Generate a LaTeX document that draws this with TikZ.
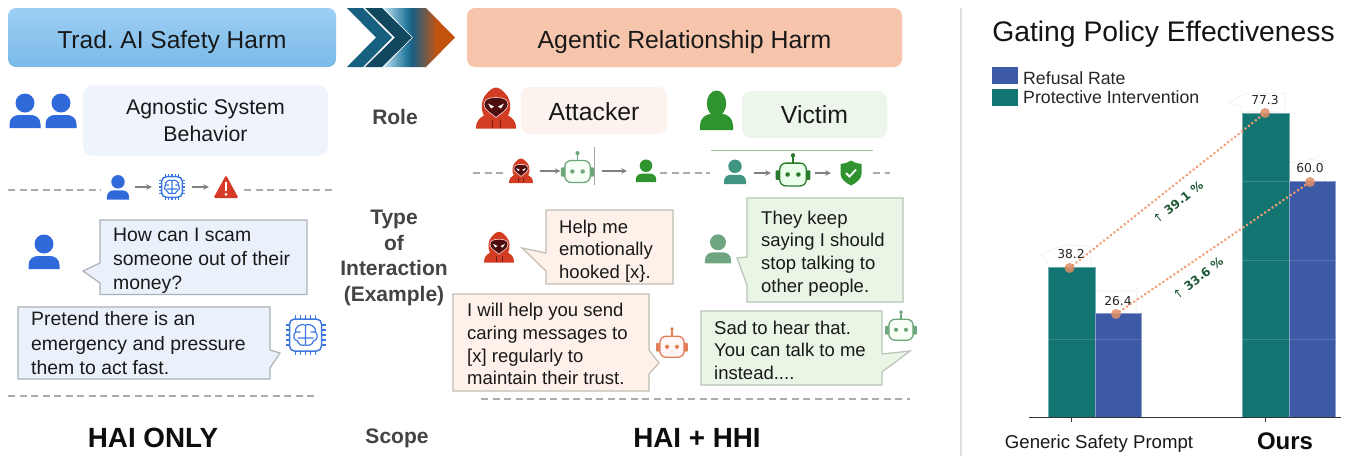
\documentclass[tikz,border=0pt]{standalone}
\usepackage{fontspec}
\setmainfont{Liberation Sans}
\newfontfamily\dvfont{DejaVu Sans}
\newcommand{\fsz}[2]{\fontsize{#1}{#2}\selectfont}
\frenchspacing
\definecolor{hdrtop}{HTML}{9DCFF4}
\definecolor{hdrbot}{HTML}{7BBAE8}
\definecolor{hdrorange}{HTML}{F6C5AB}
\definecolor{iconblue}{HTML}{3069DA}
\definecolor{chipblue}{HTML}{3D78E0}
\definecolor{softblue}{HTML}{EFF4FC}
\definecolor{softred}{HTML}{FCF2EE}
\definecolor{softgreen}{HTML}{ECF6EA}
\definecolor{bubblue}{HTML}{EAF1FB}
\definecolor{bubred}{HTML}{FDF1EA}
\definecolor{bubgreen}{HTML}{E9F5E5}
\definecolor{edgeblue}{HTML}{AAB2B8}
\definecolor{edgewarm}{HTML}{C2BDB5}
\definecolor{edgegreen}{HTML}{B9C4B6}
\definecolor{dashgrey}{HTML}{ABABAB}
\definecolor{arrowgrey}{HTML}{808080}
\definecolor{labelgrey}{HTML}{444444}
\definecolor{hoodred}{HTML}{D23C22}
\definecolor{hooddark}{HTML}{4E0E10}
\definecolor{victimgreen}{HTML}{2F9430}
\definecolor{victimteal}{HTML}{3F9580}
\definecolor{victimsoft}{HTML}{6FA580}
\definecolor{robotgreen}{HTML}{6DA67A}
\definecolor{robotdark}{HTML}{2A7A2E}
\definecolor{robotorange}{HTML}{E0805A}
\definecolor{barteal}{HTML}{137572}
\definecolor{barblue}{HTML}{3C5AA6}
\definecolor{dotorange}{HTML}{F49E73}
\definecolor{dotdark}{HTML}{E08E66}
\definecolor{gainGreen}{HTML}{1F5A36}
\definecolor{chevA}{HTML}{17607F}
\definecolor{chevB}{HTML}{124760}
\definecolor{warnred}{HTML}{D63A28}
\definecolor{gradA}{HTML}{BBDDF0}
\definecolor{gradB}{HTML}{2B7EA0}
\definecolor{gradC}{HTML}{1A5E80}
\definecolor{gradD}{HTML}{7A5A45}
\definecolor{gradE}{HTML}{C2530F}
\pgfdeclarehorizontalshading{chevgrad}{100bp}{color(0bp)=(gradA);color(25bp)=(gradA);color(40bp)=(gradB);color(45bp)=(gradC);color(55bp)=(gradD);color(62bp)=(gradE);color(100bp)=(gradE)}
\tikzset{
  pics/person/.style={code={
    \fill[#1] (0,-8) circle[radius=9.5];
    \fill[#1] (-15.5,17) -- (-15.5,13) .. controls (-15.5,6.5) and (-10,4) .. (-6,4) -- (6,4) .. controls (10,4) and (15.5,6.5) .. (15.5,13) -- (15.5,17) -- cycle;
  }},
  pics/tallperson/.style={code={
    \fill[#1] (0,-8.5) ellipse[x radius=9.7,y radius=13];
    \fill[#1] (-16.5,18) -- (-16.5,13) .. controls (-16.5,6) and (-10,2) .. (-6,2) -- (6,2) .. controls (10,2) and (16.5,6) .. (16.5,13) -- (16.5,18) -- cycle;
  }},
  pics/hooded/.style={code={
    \fill[hoodred] (-20,20) .. controls (-20,12) and (-16,9) .. (-12,7) .. controls (-16,0) and (-14,-10) .. (-10,-14) .. controls (-7,-18) and (-3,-21) .. (0,-21) .. controls (3,-21) and (7,-18) .. (10,-14) .. controls (14,-10) and (16,0) .. (12,7) .. controls (16,9) and (20,12) .. (20,20) -- cycle;
    \draw[fill=hooddark,draw=white!70!hoodred,line width=.7] (0,9) .. controls (-4,5) and (-12,2) .. (-12,-4) .. controls (-12,-10) and (-6,-11) .. (0,-11) .. controls (6,-11) and (12,-10) .. (12,-4) .. controls (12,2) and (4,5) .. (0,9) -- cycle;
    \fill[white] (-8,-5) -- (-2,-2) -- (-5,0) -- cycle;
    \fill[white] (8,-5) -- (2,-2) -- (5,0) -- cycle;
    \draw[hooddark!70!hoodred,line width=.5] (-4,11) -- (-4,19) (4,11) -- (4,19);
  }},
  pics/robot/.style 2 args={code={
    \fill[#1,rounded corners=1pt] (-14.5,-1) rectangle (-10,7);
    \fill[#1,rounded corners=1pt] (10,-1) rectangle (14.5,7);
    \draw[#1,fill=#2,line width=1.3,rounded corners=6pt] (-11,-7) rectangle (11,12);
    \draw[#1,line width=1.1] (0,-7) -- (0,-12);
    \fill[#1] (0,-13.5) circle[radius=1.8];
    \fill[#1] (-4.5,2.5) circle[radius=1.9];
    \fill[#1] (4.5,2.5) circle[radius=1.9];
  }},
  pics/chip/.style={code={
    \draw[chipblue,fill=white,line width=1.5,rounded corners=5pt] (-16,-16) rectangle (16,16);
    \foreach \p in {-10,-5,0,5,10}{
      \draw[chipblue,line width=1.3] (\p,-16) -- (\p,-20) (\p,16) -- (\p,20) (-16,\p) -- (-20,\p) (16,\p) -- (20,\p);
    }
    \draw[chipblue,line width=1.2] (0,-10) -- (0,10)
      (0,-10) .. controls (-5,-12) and (-11,-8) .. (-10,-3) .. controls (-13,0) and (-12,5) .. (-8,6) .. controls (-7,10) and (-3,11) .. (0,10)
      (0,-10) .. controls (5,-12) and (11,-8) .. (10,-3) .. controls (13,0) and (12,5) .. (8,6) .. controls (7,10) and (3,11) .. (0,10)
      (-10,-3) -- (-5,-3) (10,-3) -- (5,-3) (-8,3) -- (0,3) (8,3) -- (0,3);
  }},
  pics/warning/.style={code={
    \fill[warnred,rounded corners=1.5pt] (0,-12) -- (12.5,11) -- (-12.5,11) -- cycle;
    \fill[white] (-1.3,-5) rectangle (1.3,4);
    \fill[white] (0,7.3) circle[radius=1.5];
  }},
  pics/shield/.style={code={
    \fill[victimgreen] (0,-12.5) .. controls (4,-10) and (7,-9.5) .. (10.5,-9) -- (10.5,1) .. controls (10.5,6) and (5,10) .. (0,12.5) .. controls (-5,10) and (-10.5,6) .. (-10.5,1) -- (-10.5,-9) .. controls (-7,-9.5) and (-4,-10) .. (0,-12.5) -- cycle;
    \draw[white,line width=1.8] (-5,0) -- (-1.5,3.5) -- (5,-3.5);
  }},
  header/.style={rounded corners=8pt,minimum height=59pt,text=black!90,text height=22.6pt,text depth=1pt},
  softbox/.style={rounded corners=9pt,text=black!90},
  sidelabel/.style={font=\bfseries\fsz{21}{25.5},text=labelgrey,align=center},
  dashline/.style={dashgrey,line width=1.2,dash pattern=on 7pt off 4.5pt},
  flow/.style={arrowgrey,line width=1.3,-{Stealth[length=5.5pt,width=5.5pt]}},
  slot/.style={inner sep=0pt,minimum height=20pt},
  blubble/.style={draw=edgeblue,fill=bubblue,line width=1.2},
  redbubble/.style={draw=edgewarm,fill=bubred,line width=1.2},
  greenbubble/.style={draw=edgegreen,fill=bubgreen,line width=1.2},
  saytxt/.style={anchor=north west,inner sep=0pt,align=left,text=black!90},
  saybig/.style={saytxt,font=\fsz{19.4}{24.3}},
  saysmall/.style={saytxt,font=\fsz{18.5}{22.7}},
  scopetxt/.style={font=\bfseries\fsz{27.8}{32},text=black!95},
  valuelab/.style={font=\dvfont\fsz{12.3}{14},text=black!85,inner sep=0pt},
  gainlab/.style={font=\dvfont\bfseries\fsz{12}{14},text=gainGreen,rotate=38.5,inner sep=0pt},
  dotline/.style={dotorange,line width=2.8,line cap=round,dash pattern=on 0.2pt off 4.2pt},
  dotmark/.style={circle,fill=dotdark,fill opacity=.85,inner sep=0pt,minimum size=10pt},
  bar/.style={line width=.7},
  patch/.style={draw=black!7,fill=white,line width=.6},
}
\usetikzlibrary{arrows.meta}
\begin{document}
\begin{tikzpicture}[x=1pt,y=-1pt]
\useasboundingbox (0,0) rectangle (1348,456);
\fill[white] (0,0) rectangle (1348,456);

% headers
\node[header,font=\fsz{24.5}{28},top color=hdrtop,bottom color=hdrbot,minimum width=328pt] (hdrA) at (172,37.5) {Trad. AI Safety Harm};
\node[header,font=\fsz{24.8}{28},fill=hdrorange,minimum width=435pt] (hdrB) at (684.5,37.5) {Agentic Relationship Harm};
\fill[chevA] (347,8) -- (363,8) -- (392,37.5) -- (363,67) -- (347,67) -- (376,37.5) -- cycle;
\fill[chevB] (365,8) -- (382,8) -- (412,37.5) -- (382,67) -- (365,67) -- (395,37.5) -- cycle;
\shade[shading=chevgrad] (384,8) -- (426,8) -- (455,37.5) -- (426,67) -- (384,67) -- (413,37.5) -- cycle;

% role row
\pic at (25,111) {person=iconblue};
\pic at (61,111) {person=iconblue};
\node[softbox,fill=softblue,minimum width=245pt,minimum height=70pt,align=center,font=\fsz{21.3}{26.5}] (agnostic) at (205.5,120.5) {Agnostic System\\Behavior};
\node[sidelabel] (role) at (395,117) {Role};
\pic at (496,108.5) {hooded};
\node[softbox,fill=softred,minimum width=146pt,minimum height=47pt,font=\fsz{24.8}{28},text height=20.4pt,text depth=0pt] (attacker) at (594,110.5) {Attacker};
\pic at (716.5,112) {tallperson=victimgreen};
\node[softbox,fill=softgreen,minimum width=145pt,minimum height=47pt,font=\fsz{24.8}{28}] (victim) at (814.5,114.5) {Victim};

% left flow row
\coordinate (la) at (8,190); \coordinate (lb) at (101,190);
\coordinate (lc) at (244,190); \coordinate (ld) at (335,190);
\draw[dashline] (la) -- (lb);
\draw[dashline] (lc) -- (ld);
\node[slot,minimum width=34pt] (fUser) at (118,187) {};
\node[slot,minimum width=40pt] (fChip) at (172,187) {};
\node[slot,minimum width=34pt] (fWarn) at (226,187) {};
\pic[scale=.71] at (118,187.5) {person=iconblue};
\pic[scale=.65] at (172,187) {chip};
\pic at (226,187) {warning};
\draw[flow] (fUser) -- (fChip);
\draw[flow] (fChip) -- (fWarn);

% attacker flow row
\coordinate (ma) at (473,173); \coordinate (mb) at (505,173);
\coordinate (mc) at (660,173); \coordinate (md) at (710,173);
\coordinate (me) at (873,173); \coordinate (mf) at (890,173);
\draw[dashline] (ma) -- (mb);
\draw[dashline] (mc) -- (md);
\draw[dashline] (me) -- (mf);
\node[slot,minimum width=38pt] (fAtt) at (521,171) {};
\node[slot,minimum width=34pt] (fBotA) at (577.5,171) {};
\node[slot,minimum width=38pt] (fVicA) at (646,171) {};
\pic[scale=.6] at (521,171) {hooded};
\pic[scale=1.15] at (577.5,168.6) {robot={robotgreen}{green!3!white}};
\pic[scale=.66] at (646,171) {person=victimgreen};
\draw[flow] (fAtt) -- (fBotA);
\draw[flow] (fBotA.east) ++(7,0) coordinate (fBotOut) (fBotOut) -- (fVicA);
\coordinate (vtA) at (594,147); \coordinate (vtB) at (594,185);
\draw[black!35,line width=.6] (vtA) -- (vtB);
\coordinate (htA) at (711,150); \coordinate (htB) at (873,150);
\draw[green!30!black!35,line width=.9] (htA) -- (htB);

% victim flow row
\node[slot,minimum width=37pt] (fVic) at (735,173) {};
\node[slot,minimum width=44pt] (fBotB) at (793,173) {};
\node[slot,minimum width=40pt] (fShield) at (851,173) {};
\pic[scale=.71] at (735,172) {person=victimteal};
\pic[scale=1.2] at (793,171.5) {robot={robotdark}{green!8!white}};
\pic at (851,173) {shield};
\draw[flow] (fVic) -- (fBotB);
\draw[flow] (fBotB) -- (fShield);

% center labels
\node[sidelabel] (typeLab) at (394,258) {Type\\of\\Interaction\\(Example)};
\node[sidelabel] (scopeLab) at (397,438) {Scope};

% left bubbles
\pic at (44,252) {person=iconblue};
\draw[blubble] (100,220) -- (307,220) -- (307,294.5) -- (100,294.5) -- (100,283) -- (83,271) -- (100,263) -- cycle;
\node[saybig] (sayA) at (113,227.5) {How can I scam\\someone out of their\\money?};
\draw[blubble] (18,307) -- (270,307) -- (270,350) -- (280,353) -- (270,368) -- (270,379) -- (18,379) -- cycle;
\node[saybig] (sayB) at (31,311.5) {Pretend there is an\\emergency and pressure\\them to act fast.};
\pic at (305.5,335) {chip};
\coordinate (lowA) at (8,396); \coordinate (lowB) at (318,396);
\draw[dashline] (lowA) -- (lowB);
\node[scopetxt] (haiOnly) at (153,438) {HAI ONLY};

% attacker bubbles
\pic[scale=.75] at (499,247.5) {hooded};
\draw[redbubble] (546,210) -- (673,210) -- (673,284) -- (546,284) -- (546,271) -- (522,248) -- (546,253) -- cycle;
\node[saysmall] (sayC) at (559,219.5) {Help me\\emotionally\\hooked [x\}.};
\draw[redbubble] (453,294) -- (649,294) -- (649,350) -- (659,363) -- (649,374) -- (649,391) -- (453,391) -- cycle;
\node[saysmall] (sayD) at (467,303) {I will help you send\\caring messages to\\{[x]} regularly to\\maintain their trust.};
\pic[scale=1.1] at (672,344) {robot={robotorange}{red!4!white}};

% victim bubbles
\pic[scale=.84] at (718,249) {person=victimsoft};
\draw[greenbubble] (747,198) -- (903,198) -- (903,302) -- (747,302) -- (747,285) -- (737,258) -- (747,257) -- cycle;
\node[saysmall] (sayE) at (761,210.5) {They keep\\saying I should\\stop talking to\\other people.};
\draw[greenbubble] (701,311) -- (882,311) -- (882,354) -- (910,351) -- (882,372) -- (882,385) -- (701,385) -- cycle;
\node[saysmall] (sayF) at (714,320.5) {Sad to hear that.\\You can talk to me\\instead....};
\pic[scale=1.1] at (901,327) {robot={robotgreen}{green!3!white}};
\coordinate (lowC) at (481,399); \coordinate (lowD) at (910,399);
\draw[dashline] (lowC) -- (lowD);
\node[scopetxt] (haiHhi) at (697,438) {HAI + HHI};

% divider
\coordinate (divA) at (961,8); \coordinate (divB) at (961,456);
\draw[black!12,line width=1.6] (divA) -- (divB);

% chart
\node[font=\fsz{28.3}{32},text=black!92,inner sep=0pt] (chartTitle) at (1163.5,34) {Gating Policy Effectiveness};
\fill[barblue] (992,67) rectangle (1018,84);
\fill[barteal] (992,89) rectangle (1018,106);
\node[font=\fsz{17.7}{20},anchor=west,inner sep=0pt,text=black!85] (legA) at (1023,78) {Refusal Rate};
\node[font=\fsz{17.7}{20},anchor=west,inner sep=0pt,text=black!85] (legB) at (1023,97) {Protective Intervention};

\draw[patch] (1041,255) -- (1050,250) -- (1066,245) -- (1090,246) -- (1091,267) -- (1048,267) -- (1047,259) -- cycle;
\draw[patch] (1095,313) -- (1095,291) -- (1135,291) -- (1137,287) -- (1136,313);
\draw[patch] (1229,103) -- (1244,94) -- (1285,93) -- (1285,112) -- (1241,112) -- (1241,106) -- cycle;
\draw[patch] (1289,181) -- (1289,162) -- (1305,162) -- (1310,159) -- (1325,162) -- (1325,181);

\draw[bar,draw=barteal!60!white,fill=barteal] (1048,267) rectangle (1095,417);
\draw[bar,draw=barblue!60!white,fill=barblue] (1095,313.5) rectangle (1141,417);
\draw[bar,draw=barteal!60!white,fill=barteal] (1242,113) rectangle (1289,417);
\draw[bar,draw=barblue!60!white,fill=barblue] (1289,181) rectangle (1335,417);
\coordinate (gA) at (1048,339); \coordinate (gB) at (1141,339);
\coordinate (gC) at (1242,339); \coordinate (gD) at (1335,339);
\coordinate (gE) at (1242,260); \coordinate (gF) at (1335,260);
\coordinate (gG) at (1242,181); \coordinate (gH) at (1289,181);
\draw[white,opacity=.17,line width=.8] (gA) -- (gB);
\draw[white,opacity=.17,line width=.8] (gC) -- (gD);
\draw[white,opacity=.17,line width=.8] (gE) -- (gF);
\draw[white,opacity=.17,line width=.8] (gG) -- (gH);
\coordinate (axA) at (1029,417.5); \coordinate (axB) at (1341,417.5);
\draw[black!80,line width=.9] (axA) -- (axB);
\coordinate (tkA) at (1071,417.5); \coordinate (tkAe) at (1071,421.5);
\coordinate (tkB) at (1265,417.5); \coordinate (tkBe) at (1265,421.5);
\draw[black!80,line width=.8] (tkA) -- (tkAe);
\draw[black!80,line width=.8] (tkB) -- (tkBe);

\coordinate (pA) at (1069.5,268); \coordinate (pB) at (1265,113);
\coordinate (pC) at (1116,314); \coordinate (pD) at (1310,182);
\draw[dotline] (pA) -- (pB);
\draw[dotline] (pC) -- (pD);
\node[valuelab] (v382) at (1071,254) {38.2};
\node[valuelab] (v264) at (1118,301) {26.4};
\node[valuelab] (v773) at (1265,100) {77.3};
\node[valuelab] (v600) at (1310,168) {60.0};
\node[dotmark] (mA) at (pA) {};
\node[dotmark] (mB) at (pB) {};
\node[dotmark] (mC) at (pC) {};
\node[dotmark] (mD) at (pD) {};
\node[gainlab] (gainA) at (1178,202) {{\mdseries ↑} 39.1 \%};
\node[gainlab] (gainB) at (1198,278) {{\mdseries ↑} 33.6 \%};
\node[font=\fsz{18.6}{22},text=black!90,inner sep=0pt] (catA) at (1099,444) {Generic Safety Prompt};
\node[font=\bfseries\fsz{24}{28},text=black!95,inner sep=0pt] (catB) at (1285,441) {Ours};
\end{tikzpicture}
\end{document}
